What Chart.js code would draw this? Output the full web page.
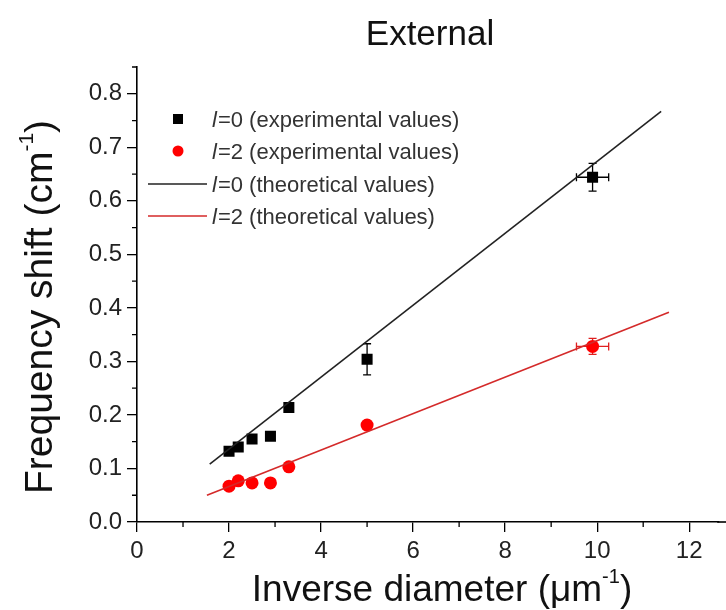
<!DOCTYPE html>
<html>
<head>
<meta charset="utf-8">
<script src="https://cdn.jsdelivr.net/npm/chart.js@4/dist/chart.umd.min.js"></script>
<style>
  body { margin: 0; background: #fff; }
  #wrap { width: 726px; height: 610px; }
</style>
</head>
<body>
<div id="wrap"><canvas id="myChart"></canvas></div>
<script>
// data
const xExp = [2.0, 2.2, 2.5, 2.9, 3.3, 5.0, 9.9];
const l0Exp = [0.132, 0.140, 0.155, 0.160, 0.214, 0.304, 0.644];
const l2Exp = [0.067, 0.077, 0.073, 0.073, 0.103, 0.181, 0.328];
const l0YErr = [0, 0, 0, 0, 0, 0.029, 0.026];
const l2YErr = [0, 0, 0, 0, 0, 0, 0.015];
const xErr = [0, 0, 0, 0, 0, 0, 0.35];

const l0TheoryX = [1.58, 11.39];
const l0TheoryY = [0.108, 0.767];
const l2TheoryX = [1.52, 11.56];
const l2TheoryY = [0.050, 0.392];

const xTicks = [0, 2, 4, 6, 8, 10, 12];
const yTicks = [0, 0.1, 0.2, 0.3, 0.4, 0.5, 0.6, 0.7, 0.8];
const xMinor = [1, 3, 5, 7, 9, 11];
const yMinor = [0.05, 0.15, 0.25, 0.35, 0.45, 0.55, 0.65, 0.75, 0.85];

const FONT = "'Liberation Sans', Arial, sans-serif";

function pts(xs, ys) { return xs.map((x, i) => ({ x: x, y: ys[i] })); }

// error bars
const errorBars = {
  id: 'errorBars',
  beforeDatasetsDraw(chart) {
    const ctx = chart.ctx, xs = chart.scales.x, ys = chart.scales.y;
    const sets = [[l0Exp, l0YErr, '#000'], [l2Exp, l2YErr, '#e02020']];
    ctx.save();
    ctx.lineWidth = 1.3;
    sets.forEach(s => {
      ctx.strokeStyle = s[2];
      xExp.forEach((x, i) => {
        const px = xs.getPixelForValue(x), py = ys.getPixelForValue(s[0][i]);
        if (s[1][i] > 0) {
          const t = ys.getPixelForValue(s[0][i] + s[1][i]);
          const b = ys.getPixelForValue(s[0][i] - s[1][i]);
          ctx.beginPath();
          ctx.moveTo(px, t); ctx.lineTo(px, b);
          ctx.moveTo(px - 4, t); ctx.lineTo(px + 4, t);
          ctx.moveTo(px - 4, b); ctx.lineTo(px + 4, b);
          ctx.stroke();
        }
        if (xErr[i] > 0) {
          const l = xs.getPixelForValue(x - xErr[i]);
          const r = xs.getPixelForValue(x + xErr[i]);
          ctx.beginPath();
          ctx.moveTo(l, py); ctx.lineTo(r, py);
          ctx.moveTo(l, py - 4); ctx.lineTo(l, py + 4);
          ctx.moveTo(r, py - 4); ctx.lineTo(r, py + 4);
          ctx.stroke();
        }
      });
    });
    ctx.restore();
  }
};

// minor ticks, titles with superscripts, legend
const decor = {
  id: 'decor',
  afterDraw(chart) {
    const ctx = chart.ctx, xs = chart.scales.x, ys = chart.scales.y;
    const a = chart.chartArea;
    ctx.save();
    ctx.strokeStyle = '#000';
    ctx.lineWidth = 1.3;
    ctx.beginPath();
    xMinor.forEach(v => {
      const p = xs.getPixelForValue(v);
      ctx.moveTo(p, a.bottom); ctx.lineTo(p, a.bottom + 5);
    });
    yMinor.forEach(v => {
      const p = ys.getPixelForValue(v);
      ctx.moveTo(a.left, p); ctx.lineTo(a.left - 5, p);
    });
    ctx.stroke();
    // axis runs on past the right edge in the original
    ctx.lineWidth = 1.6;
    ctx.beginPath();
    ctx.moveTo(a.right - 1, a.bottom); ctx.lineTo(chart.width, a.bottom);
    ctx.stroke();

    ctx.fillStyle = '#111';
    ctx.textBaseline = 'alphabetic';
    // title
    ctx.font = '35px ' + FONT;
    ctx.textAlign = 'center';
    ctx.fillText('External', 430, 45);

    function supText(main, sup, tail, cx, cy, size) {
      ctx.font = size + 'px ' + FONT;
      const w1 = ctx.measureText(main).width;
      const w3 = ctx.measureText(tail).width;
      ctx.font = Math.round(size * 0.55) + 'px ' + FONT;
      const w2 = ctx.measureText(sup).width;
      let x = cx - (w1 + w2 + w3) / 2;
      ctx.textAlign = 'left';
      ctx.font = size + 'px ' + FONT;
      ctx.fillText(main, x, cy);
      x += w1;
      ctx.font = Math.round(size * 0.55) + 'px ' + FONT;
      ctx.fillText(sup, x, cy - size * 0.5);
      x += w2;
      ctx.font = size + 'px ' + FONT;
      ctx.fillText(tail, x, cy);
    }
    supText('Inverse diameter (\u03bcm', '-1', ')', 442, 601, 37);
    ctx.save();
    ctx.translate(52, 307);
    ctx.rotate(-Math.PI / 2);
    supText('Frequency shift (cm', '-1', ')', 0, 0, 39);
    ctx.restore();

    // legend
    const rows = [
      ['square', '#000', '=0 (experimental values)', 119],
      ['circle', '#ff0000', '=2 (experimental values)', 151],
      ['line', '#222', '=0 (theoretical values)', 184],
      ['line', '#d42a2a', '=2 (theoretical values)', 216]
    ];
    rows.forEach(r => {
      const y = r[3];
      if (r[0] === 'square') {
        ctx.fillStyle = r[1];
        ctx.fillRect(173, y - 5, 10, 10);
      } else if (r[0] === 'circle') {
        ctx.fillStyle = r[1];
        ctx.beginPath(); ctx.arc(178, y, 5.5, 0, Math.PI * 2); ctx.fill();
      } else {
        ctx.strokeStyle = r[1];
        ctx.lineWidth = 1.5;
        ctx.beginPath(); ctx.moveTo(148, y); ctx.lineTo(207, y); ctx.stroke();
      }
      ctx.fillStyle = '#333';
      ctx.textAlign = 'left';
      ctx.font = 'italic 22px ' + FONT;
      ctx.fillText('l', 212, y + 8);
      const lw = ctx.measureText('l').width;
      ctx.font = '22px ' + FONT;
      ctx.fillText(r[2], 212 + lw + 1, y + 8);
    });
    ctx.restore();
  }
};

const data = {
  datasets: [
    {
      type: 'line',
      data: pts(l0TheoryX, l0TheoryY),
      borderColor: '#222',
      borderWidth: 1.6,
      pointRadius: 0,
      fill: false
    },
    {
      type: 'line',
      data: pts(l2TheoryX, l2TheoryY),
      borderColor: '#d42a2a',
      borderWidth: 1.6,
      pointRadius: 0,
      fill: false
    },
    {
      type: 'scatter',
      data: pts(xExp, l0Exp),
      pointStyle: 'rect',
      pointRadius: 7.8,
      backgroundColor: '#000',
      borderColor: '#000',
      borderWidth: 0
    },
    {
      type: 'scatter',
      data: pts(xExp, l2Exp),
      pointStyle: 'circle',
      pointRadius: 6.5,
      backgroundColor: '#ff0000',
      borderColor: '#ff0000',
      borderWidth: 0
    }
  ]
};

const config = {
  type: 'scatter',
  data,
  options: {
    responsive: false,
    animation: false,
    maintainAspectRatio: false,
    layout: { padding: { top: 67, right: 0, left: 0, bottom: 0 } },
    plugins: { legend: { display: false }, tooltip: { enabled: false } },
    scales: {
      x: {
        type: 'linear',
        min: 0,
        max: 12.63,
        afterBuildTicks: s => { s.ticks = xTicks.map(v => ({ value: v })); },
        afterFit: s => { s.height = 88; },
        grid: { drawOnChartArea: false, tickLength: 10, color: '#000', lineWidth: 1.3 },
        border: { color: '#000', width: 1.6 },
        ticks: { color: '#222', font: { family: FONT, size: 24 }, padding: 5 }
      },
      y: {
        type: 'linear',
        min: 0,
        max: 0.85,
        afterBuildTicks: s => { s.ticks = yTicks.map(v => ({ value: v })); },
        afterFit: s => { s.width = 137; },
        grid: { drawOnChartArea: false, tickLength: 10, color: '#000', lineWidth: 1.3 },
        border: { color: '#000', width: 1.6 },
        ticks: { color: '#222', font: { family: FONT, size: 24 }, padding: 5,
          callback: v => v.toFixed(1) }
      }
    }
  },
  plugins: [errorBars, decor]
};

const canvas = document.getElementById('myChart');
canvas.width = 726;
canvas.height = 610;
const myChart = new Chart(canvas, config);
</script>
</body>
</html>
